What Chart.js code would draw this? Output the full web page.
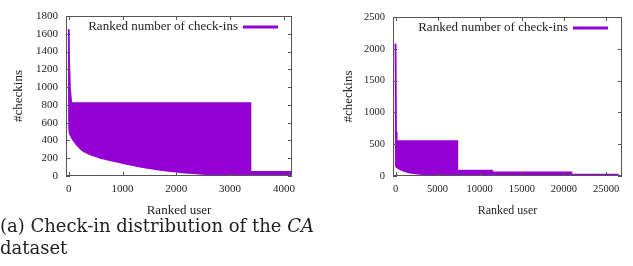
<!DOCTYPE html>
<html>
<head>
<meta charset="utf-8">
<script src="https://cdn.jsdelivr.net/npm/chart.js@4/dist/chart.umd.min.js"></script>
<style>
  html, body { margin: 0; padding: 0; background: #fff; }
  body { width: 633px; height: 266px; position: relative; overflow: hidden; }
  #caChart { position: absolute; left: 0; top: 0; }
  #fsChart { position: absolute; left: 316px; top: 0; }
  .caption {
    position: absolute; left: 0; top: 215px;
    font-family: "DejaVu Serif", serif; font-size: 18px; line-height: 22px;
    color: #222; white-space: nowrap;
  }
</style>
</head>
<body>
<canvas id="caChart" width="316" height="218"></canvas>
<canvas id="fsChart" width="317" height="218"></canvas>
<div class="caption">(a) Check-in distribution of the <i>CA</i><br>dataset</div>
<script>
// CA dataset: upper and lower envelope of the ranked check-in line
const caRankUpper = [0, 10, 25, 50, 3380, 3380, 4150];
const caCheckinsUpper = [1650, 1300, 1000, 820, 820, 48, 48];
const caRankLower = [0, 3, 8, 30, 70, 225, 540, 915, 1350, 1850, 2480, 3100, 3380, 4150];
const caCheckinsLower = [1650, 800, 525, 460, 414, 302, 212, 157, 100, 56, 22, 5, 3, 0];
const caXTicks = [0, 1000, 2000, 3000, 4000];
const caYTicks = [0, 200, 400, 600, 800, 1000, 1200, 1400, 1600, 1800];

// second dataset
const fsRankUpper = [0, 60, 150, 7350, 7350, 11500, 11500, 20900, 20900, 26500];
const fsCheckinsUpper = [2080, 700, 550, 550, 85, 85, 58, 58, 25, 25];
const fsRankLower = [0, 20, 200, 600, 1270, 2860, 5200, 7350, 26500];
const fsCheckinsLower = [2080, 160, 130, 100, 67, 30, 8, 3, 0];
const fsXTicks = [0, 5000, 10000, 15000, 20000, 25000];
const fsYTicks = [0, 500, 1000, 1500, 2000, 2500];

const seriesLabel = 'Ranked number of check-ins';
const xTitle = 'Ranked user';
const yTitle = '#checkins';
const purple = '#9400d3';
const ink = '#222';

const toPoints = (xs, ys) => xs.map((x, i) => ({ x, y: ys[i] }));
const fixedTicks = values => scale => { scale.ticks = values.map(v => ({ value: v })); };

// gnuplot-like frame, inward ticks and key inside the plot
const gnuplotFrame = {
    id: 'gnuplotFrame',
    afterDatasetsDraw(chart) {
        const { ctx, chartArea: a, scales } = chart;
        ctx.save();
        ctx.strokeStyle = '#555';
        ctx.lineWidth = 1;
        ctx.strokeRect(a.left + 0.5, a.top + 0.5, a.width - 1, a.height - 1);
        ctx.beginPath();
        scales.x.ticks.forEach(t => {
            const px = Math.round(scales.x.getPixelForValue(t.value)) + 0.5;
            ctx.moveTo(px, a.bottom); ctx.lineTo(px, a.bottom - 4);
            ctx.moveTo(px, a.top); ctx.lineTo(px, a.top + 4);
        });
        scales.y.ticks.forEach(t => {
            const py = Math.round(scales.y.getPixelForValue(t.value)) + 0.5;
            ctx.moveTo(a.left, py); ctx.lineTo(a.left + 4, py);
            ctx.moveTo(a.right, py); ctx.lineTo(a.right - 4, py);
        });
        ctx.stroke();

        // key
        const ly = a.top + 11;
        const lineEnd = a.right - 14;
        const lineStart = lineEnd - 35;
        ctx.font = '13px "Liberation Serif"';
        ctx.fillStyle = ink;
        ctx.textAlign = 'right';
        ctx.textBaseline = 'middle';
        ctx.fillText(chart.data.datasets[0].label, lineStart - 5, ly);
        ctx.strokeStyle = purple;
        ctx.lineWidth = 3;
        ctx.beginPath();
        ctx.moveTo(lineStart, ly); ctx.lineTo(lineEnd, ly);
        ctx.stroke();
        ctx.restore();
    }
};

const makeChart = (id, cfg) => {
    const ctx = document.getElementById(id).getContext('2d');
    return new Chart(ctx, {
        type: 'line',
        data: {
            datasets: [{
                label: seriesLabel,
                data: toPoints(cfg.upperX, cfg.upperY),
                borderColor: purple,
                borderWidth: 1.5,
                pointRadius: 0,
                fill: false
            }, {
                label: seriesLabel,
                data: toPoints(cfg.lowerX, cfg.lowerY),
                borderColor: purple,
                borderWidth: 1.5,
                backgroundColor: purple,
                pointRadius: 0,
                cubicInterpolationMode: 'monotone',
                fill: '-1'
            }]
        },
        options: {
            responsive: false,
            animation: false,
            layout: { padding: cfg.padding },
            plugins: { legend: { display: false }, tooltip: { enabled: false } },
            scales: {
                x: {
                    type: 'linear',
                    min: cfg.xMin, max: cfg.xMax,
                    afterBuildTicks: fixedTicks(cfg.xTicks),
                    grid: { display: false, drawTicks: false },
                    border: { display: false },
                    ticks: {
                        padding: 7, color: ink, maxRotation: 0, autoSkip: false,
                        callback: v => String(v),
                        font: { family: 'Liberation Serif', size: cfg.tickSize }
                    },
                    title: {
                        display: true, text: xTitle, color: ink,
                        font: { family: 'Liberation Serif', size: cfg.titleSize },
                        padding: { top: 0, bottom: 0 }
                    },
                    afterFit: s => { s.height = 42; }
                },
                y: {
                    min: 0, max: cfg.yMax,
                    afterBuildTicks: fixedTicks(cfg.yTicks),
                    grid: { display: false, drawTicks: false },
                    border: { display: false },
                    ticks: {
                        padding: 8, color: ink, autoSkip: false,
                        callback: v => String(v),
                        font: { family: 'Liberation Serif', size: cfg.tickSize }
                    },
                    title: {
                        display: true, text: yTitle, color: ink,
                        font: { family: 'Liberation Serif', size: 13 },
                        padding: { top: cfg.yTitlePad, bottom: 0 }
                    },
                    afterFit: s => { s.width = cfg.yWidth; }
                }
            }
        },
        plugins: [gnuplotFrame]
    });
};

makeChart('caChart', {
    upperX: caRankUpper, upperY: caCheckinsUpper,
    lowerX: caRankLower, lowerY: caCheckinsLower,
    xTicks: caXTicks, yTicks: caYTicks,
    xMin: -50, xMax: 4150, yMax: 1800,
    padding: { top: 16, right: 24, left: 0, bottom: 0 },
    yWidth: 66, yTitlePad: 11, tickSize: 11, titleSize: 13
});

makeChart('fsChart', {
    upperX: fsRankUpper, upperY: fsCheckinsUpper,
    lowerX: fsRankLower, lowerY: fsCheckinsLower,
    xTicks: fsXTicks, yTicks: fsYTicks,
    xMin: -300, xMax: 26900, yMax: 2500,
    padding: { top: 17, right: 11, left: 0, bottom: 0 },
    yWidth: 77, yTitlePad: 25, tickSize: 10.5, titleSize: 12
});
</script>
</body>
</html>
